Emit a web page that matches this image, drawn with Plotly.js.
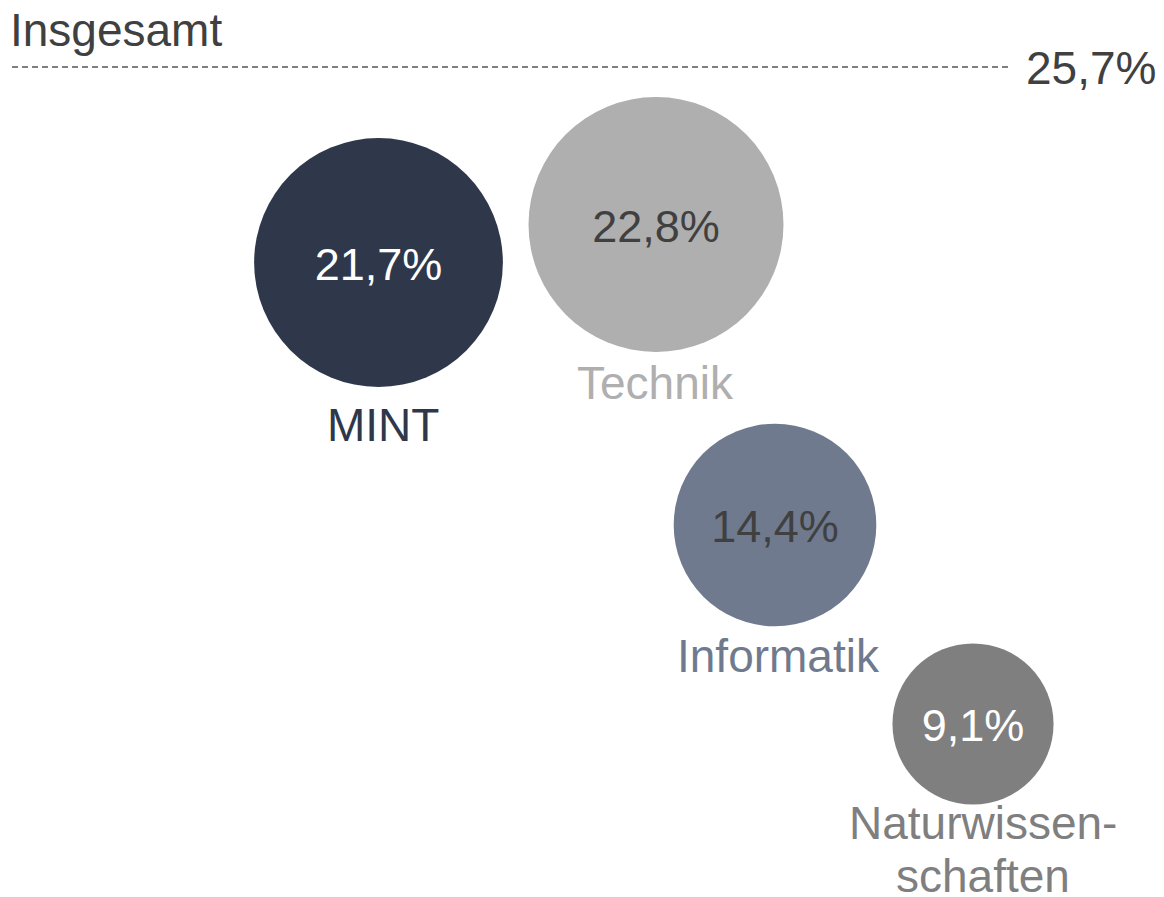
<!DOCTYPE html>
<html>
<head>
<meta charset="utf-8">
<script src="https://cdn.plot.ly/plotly-3.0.1.min.js"></script>
<style>html,body{margin:0;padding:0;background:#fff;}#chart{width:1164px;height:897px;}</style>
</head>
<body>
<div id="chart"></div>
<script>
// Data
const categories = ["MINT", "Technik", "Informatik", "Naturwissen-<br>schaften"];
const values = [21.7, 22.8, 14.4, 9.1];
const totalLabel = "Insgesamt";
const totalValue = 25.7;

// Layout positions of the bubbles (drawing units, not data)
const bubbleX = [378.5, 656, 775, 973];
const bubbleY = [262.5, 224.5, 525, 724];
const labelX = [383, 655, 778, 983];
const labelY = [425, 383, 656, 823];
const labelLineHeight = 53;
const valueTextDy = 6;

const bubbleColors = ["#2f374b", "#afafaf", "#6f7a8e", "#7f7f7f"];
const valueTextColors = ["#ffffff", "#404040", "#404040", "#ffffff"];
const labelColors = ["#2f374b", "#afafaf", "#6f7a8e", "#7f7f7f"];

const fmt = v => v.toFixed(1).replace('.', ',') + '%';
const FONT = "Liberation Sans, Arial, sans-serif";

const bubbles = {
  type: 'scatter',
  mode: 'markers',
  x: bubbleX,
  y: bubbleY,
  marker: {
    size: values,
    sizemode: 'area',
    sizeref: 2 / (53.4 * 53.4),
    color: bubbleColors,
    line: {width: 0},
    opacity: 1
  },
  hoverinfo: 'skip',
  showlegend: false,
  cliponaxis: false
};

const valueText = {
  type: 'scatter',
  mode: 'text',
  x: bubbleX,
  y: bubbleY.map(y => y + valueTextDy),
  text: values.map(fmt),
  textposition: 'middle center',
  textfont: {family: FONT, size: 45, color: valueTextColors},
  hoverinfo: 'skip',
  showlegend: false,
  cliponaxis: false
};

const annotations = [];
categories.forEach((c, i) => {
  c.split('<br>').forEach((line, k) => {
    annotations.push({
      x: labelX[i], y: labelY[i] + k * labelLineHeight, xref: 'x', yref: 'y',
      text: line, showarrow: false,
      xanchor: 'center', yanchor: 'middle',
      font: {family: FONT, size: 46, color: labelColors[i]}
    });
  });
});
annotations.push({
  x: 8, y: 30, xref: 'x', yref: 'y', text: totalLabel, showarrow: false,
  xanchor: 'left', yanchor: 'middle',
  font: {family: FONT, size: 46, color: '#404040'}
});
annotations.push({
  x: 1024, y: 68, xref: 'x', yref: 'y', text: fmt(totalValue), showarrow: false,
  xanchor: 'left', yanchor: 'middle',
  font: {family: FONT, size: 46, color: '#404040'}
});

const layout = {
  width: 1164, height: 897,
  margin: {l: 0, r: 0, t: 0, b: 0},
  paper_bgcolor: '#ffffff', plot_bgcolor: '#ffffff',
  xaxis: {range: [0, 1164], visible: false, fixedrange: true},
  yaxis: {range: [897, 0], visible: false, fixedrange: true},
  showlegend: false,
  shapes: [{
    type: 'line', xref: 'x', yref: 'y',
    x0: 12, x1: 1008, y0: 67, y1: 67,
    line: {color: '#555555', width: 1.5, dash: '6px,4px'}
  }],
  annotations: annotations
};

Plotly.newPlot('chart', [bubbles, valueText], layout, {staticPlot: true, displayModeBar: false});
</script>
</body>
</html>
